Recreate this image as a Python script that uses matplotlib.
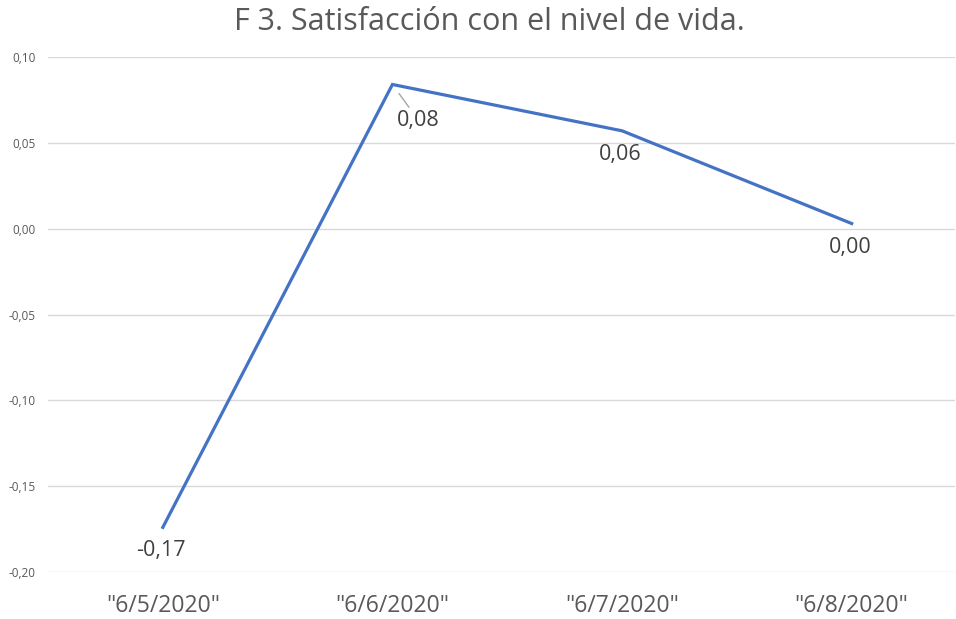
import matplotlib
matplotlib.use("Agg")
import matplotlib.pyplot as plt

plt.rcParams["font.family"] = ["Open Sans", "DejaVu Sans"]

dates = ['"6/5/2020"', '"6/6/2020"', '"6/7/2020"', '"6/8/2020"']
values = [-0.174, 0.084, 0.057, 0.003]
labels = ["-0,17", "0,08", "0,06", "0,00"]
yticks = [-0.20, -0.15, -0.10, -0.05, 0.00, 0.05, 0.10]

text_color = "#595959"
line_color = "#4472C4"

fig = plt.figure(figsize=(9.56, 6.19), dpi=100)
ax = fig.add_axes([48 / 956, 47 / 619, 907 / 956, 515 / 619])

x = list(range(len(dates)))
ax.plot(x, values, color=line_color, linewidth=2.3, solid_joinstyle="miter", zorder=3)

# data labels
for i, (v, lab) in enumerate(zip(values, labels)):
    if i == 1:
        ax.annotate(lab, xy=(i, v), xytext=(3.5, -26), textcoords="offset points",
                    fontsize=15.5, color="#404040", ha="left", va="center",
                    arrowprops=dict(arrowstyle="-", color="#a6a6a6", lw=1,
                                    shrinkA=0, shrinkB=8))
    else:
        ax.annotate(lab, xy=(i, v), xytext=(-1, -17), textcoords="offset points",
                    fontsize=15.5, color="#404040", ha="center", va="center")

ax.set_xlim(-0.5, 3.45)
ax.set_ylim(-0.20, 0.10)
ax.set_yticks(yticks)
ax.set_yticklabels([f"{t:.2f}".replace(".", ",") for t in yticks],
                   fontsize=8.5, color=text_color)
ax.set_xticks(x)
ax.set_xticklabels(dates, fontsize=16.5, color=text_color)
ax.tick_params(axis="both", length=0)
ax.tick_params(axis="x", pad=16)
ax.tick_params(axis="y", pad=9)

ax.grid(axis="y", color="#d9d9d9", linewidth=1)
ax.set_axisbelow(True)
for s in ax.spines.values():
    s.set_visible(False)

fig.text(489 / 956, 1 - 22 / 619, "F 3. Satisfacción con el nivel de vida.",
         ha="center", va="center", fontsize=22, color=text_color)

fig.savefig("out.png", dpi=100)
